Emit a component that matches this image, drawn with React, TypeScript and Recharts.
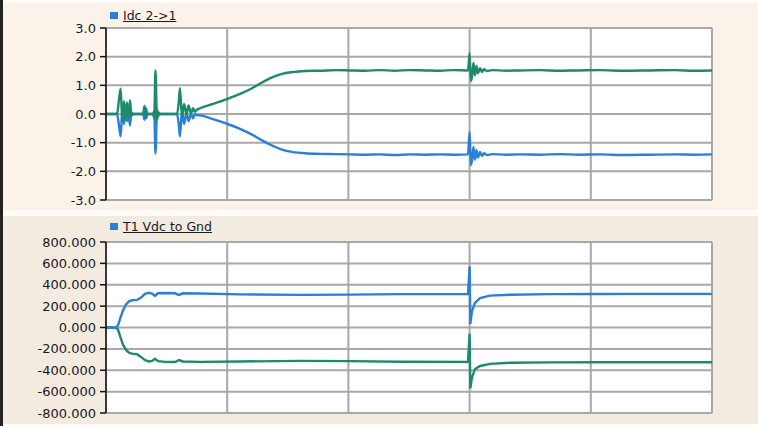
import { LineChart, Line, XAxis, YAxis, CartesianGrid } from 'recharts';

// time in ms, 0..500 across the plot
const idcTime = [
  0, 9.1, 10.7, 12.1, 13.5, 14.9, 15.9, 17.3, 18.4, 19.8, 20.9, 22.3,
  30.5, 31.8, 33, 34.2, 38.8, 39.8, 40.8, 42.1, 43.3, 44.6,
  58.6, 60, 61, 62.7, 64.4, 66.4, 68.1, 70.1, 71.8, 73.4, 75.1, 77.6,
  88.3, 99.8, 110.6, 120.5, 128.7, 137, 145.2, 153.5, 164.2, 176.6, 190, 201.3,
  214, 226, 238, 250.8, 263, 275.6, 287, 298.7,
  300, 301, 302, 303.2, 304.4, 305.7, 306.9, 308.6, 310.2, 311.9, 314.3, 318.5,
  330, 341.6, 358, 374.6, 390, 407.6, 428, 448.8, 470, 485, 500,
];
const idcUpper = [
  0, 0, 0.5, 0.88, -0.25, 0.45, -0.2, 0.4, -0.15, 0.48, -0.05, 0,
  0, 0.28, -0.15, 0, 0, -0.15, 1.52, -0.2, 0.05, 0,
  0, 0.4, 0.9, -0.1, 0.35, 0, 0.3, 0.02, 0.2, 0.08, 0.15, 0.2,
  0.35, 0.52, 0.7, 0.9, 1.1, 1.28, 1.4, 1.46, 1.5, 1.51, 1.53, 1.52,
  1.51, 1.53, 1.51, 1.53, 1.52, 1.51, 1.53, 1.52,
  2.12, 1.15, 1.3, 1.78, 1.35, 1.68, 1.42, 1.6, 1.47, 1.56, 1.5, 1.53,
  1.51, 1.52, 1.53, 1.51, 1.52, 1.53, 1.51, 1.52, 1.53, 1.51, 1.52,
];
const idcLower = [
  0, 0, -0.4, -0.78, 0.2, -0.35, 0.15, -0.25, 0.1, -0.4, 0.05, 0,
  0, -0.2, 0.2, 0, 0, 0.1, -1.38, 0.15, -0.05, 0,
  0, -0.35, -0.78, 0.1, -0.35, 0.05, -0.25, 0, -0.15, -0.02, -0.04, -0.05,
  -0.18, -0.34, -0.52, -0.72, -0.92, -1.1, -1.24, -1.32, -1.37, -1.39, -1.4, -1.41,
  -1.42, -1.41, -1.43, -1.41, -1.42, -1.41, -1.42, -1.41,
  -0.63, -1.78, -1.6, -1.15, -1.6, -1.26, -1.52, -1.32, -1.46, -1.37, -1.43, -1.4,
  -1.42, -1.41, -1.42, -1.4, -1.42, -1.41, -1.43, -1.42, -1.41, -1.42, -1.41,
];

const vdcTime = [
  0, 8.3, 9.9, 11.6, 14, 16.5, 19, 21.5, 25.6, 28.9, 32.2, 35.5, 38, 40.4, 42.9,
  48.7, 56.9, 60.2, 63.5, 77.6, 110.6, 160, 201.3, 242.6, 298.7,
  300, 300.6, 301.9, 304.4, 308.6, 316.8, 333.3, 366.3, 407.6, 448.8, 500,
];
const vdcUpper = [
  0, 0, 20, 80, 160, 215, 245, 255, 258, 280, 315, 325, 318, 295, 320,
  323, 320, 305, 320, 318, 310, 305, 308, 312, 315,
  570, 34, 150, 230, 275, 298, 306, 312, 314, 315, 315,
];
const vdcLower = [
  0, 0, -20, -80, -160, -210, -235, -245, -250, -275, -305, -318, -312, -292, -315,
  -322, -323, -305, -318, -322, -318, -312, -315, -320, -322,
  -58, -568, -470, -390, -360, -340, -330, -326, -325, -325, -325,
];

const timeTicks = [0, 100, 200, 300, 400, 500];
const idcTicks = [-3, -2, -1, 0, 1, 2, 3];
const vdcTicks = [-800, -600, -400, -200, 0, 200, 400, 600, 800];

const idcData = idcTime.map((t, i) => ({ t, up: idcUpper[i], low: idcLower[i] }));
const vdcData = vdcTime.map((t, i) => ({ t, up: vdcUpper[i], low: vdcLower[i] }));

const BLUE = '#2a7fd6';
const GREEN = '#1d8a6a';
const FONT = '"DejaVu Sans", sans-serif';

function LegendTag({ label, top }: { label: string; top: number }) {
  return (
    <div style={{ position: 'absolute', left: 110, top, display: 'flex', alignItems: 'center',
      fontFamily: FONT, fontSize: 12.5, color: '#1a1a1a' }}>
      <span style={{ width: 8, height: 7, background: BLUE, display: 'inline-block', marginRight: 5 }} />
      <span style={{ textDecoration: 'underline' }}>{label}</span>
    </div>
  );
}

function Panel({ data, ticks, domain, fmt, top, height, mTop, mBottom, upperColor, lowerColor, curve }: any) {
  return (
    <LineChart
      width={758}
      height={height}
      data={data}
      margin={{ top: mTop, right: 46, bottom: mBottom, left: 0 }}
      style={{ position: 'absolute', left: 0, top }}
    >
      <CartesianGrid stroke="#a8a8a8" strokeWidth={2} fill="#ffffff" />
      <XAxis dataKey="t" type="number" domain={[0, 500]} ticks={timeTicks} hide />
      <YAxis
        type="number"
        domain={domain}
        ticks={ticks}
        width={106}
        interval={0}
        tickFormatter={fmt}
        tickSize={6}
        tickMargin={4}
        axisLine={{ stroke: '#111', strokeWidth: 1.5 }}
        tickLine={{ stroke: '#111', strokeWidth: 1.5 }}
        tick={{ fill: '#1a1a1a', fontSize: 13, fontFamily: FONT }}
      />
      <Line type={curve} dataKey="low" stroke={lowerColor}
        strokeWidth={2.4} dot={false} isAnimationActive={false} />
      <Line type={curve} dataKey="up" stroke={upperColor}
        strokeWidth={2.4} dot={false} isAnimationActive={false} />
    </LineChart>
  );
}

export default function App() {
  return (
    <div style={{ position: 'fixed', left: 0, top: 0, width: 758, height: 426, background: '#fffbf6', overflow: 'hidden' }}>
      <div style={{ position: 'absolute', left: 0, top: 0, width: 3, height: 426, background: '#222' }} />
      <div style={{ position: 'absolute', left: 3, top: 3, width: 755, height: 207, background: '#fbf3e9' }} />
      <div style={{ position: 'absolute', left: 3, top: 216, width: 755, height: 208, background: '#f3eae0' }} />
      <Panel data={idcData} ticks={idcTicks} domain={[-3, 3]} fmt={(v: number) => v.toFixed(1)}
        top={0} height={210} mTop={28} mBottom={10} upperColor={GREEN} lowerColor={BLUE} curve="monotone" />
      <Panel data={vdcData} ticks={vdcTicks} domain={[-800, 800]} fmt={(v: number) => v.toFixed(3)}
        top={210} height={216} mTop={32} mBottom={13} upperColor={BLUE} lowerColor={GREEN} curve="linear" />
      <LegendTag label="Idc 2->1" top={8} />
      <LegendTag label="T1 Vdc to Gnd" top={219} />
    </div>
  );
}
